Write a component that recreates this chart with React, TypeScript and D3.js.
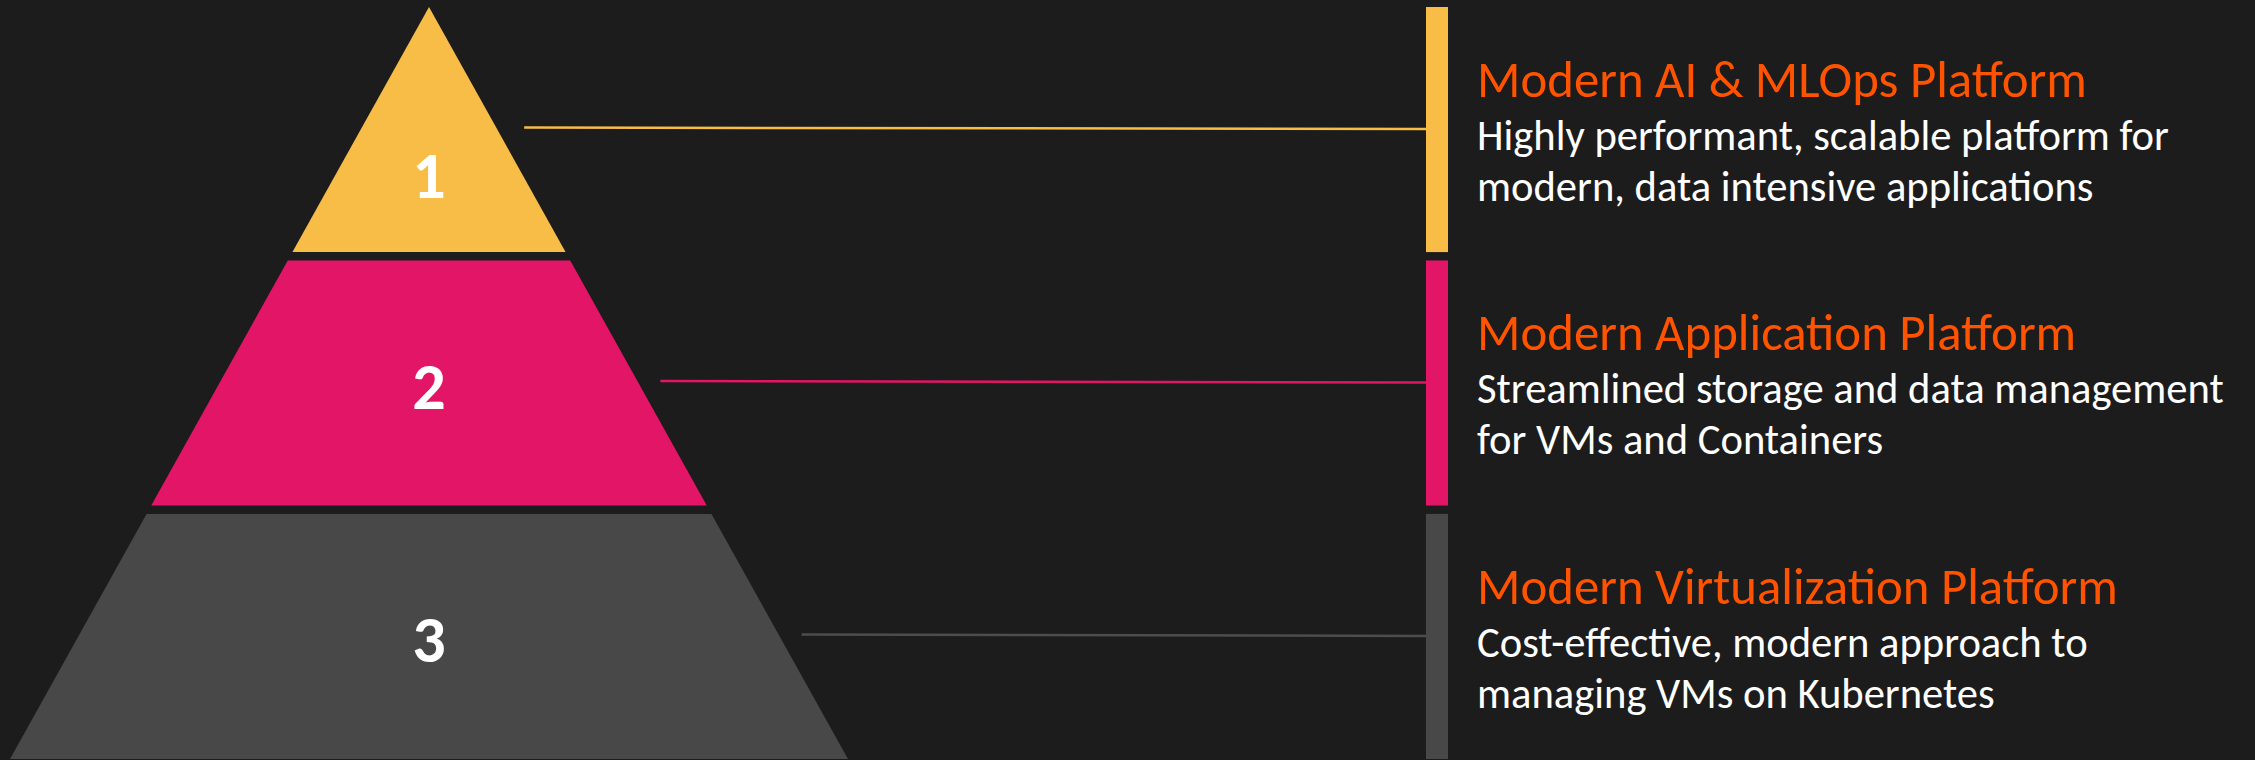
import React from "react";
import * as d3 from "d3";

const LEVELS = ["1", "2", "3"];
const COLORS = ["#F8BD47", "#E31566", "#484848"];
const TITLES = [
  "Modern AI & MLOps Platform",
  "Modern Application Platform",
  "Modern Virtualization Platform",
];
const DESC_LINE1 = [
  "Highly performant, scalable platform for",
  "Streamlined storage and data management",
  "Cost-effective, modern approach to",
];
const DESC_LINE2 = [
  "modern, data intensive applications",
  "for VMs and Containers",
  "managing VMs on Kubernetes",
];

const WIDTH = 2255;
const HEIGHT = 760;
const BG = "#1C1C1C";
const ORANGE = "#FF5300";
const FONT = "Calibri, Carlito, Lato, sans-serif";

const APEX_X = 429;
const TOP = 7;
const BASE = 759;
const HALF_BASE = 419;
const BAR_X = 1426;
const BAR_W = 22;
const TEXT_X = 1477;

export default function App() {
  const y = d3
    .scaleBand<string>()
    .domain(LEVELS)
    .range([TOP, BASE])
    .paddingInner(0.033);

  // half width of the pyramid at a given height
  const half = d3.scaleLinear().domain([TOP, BASE]).range([0, HALF_BASE]);

  return (
    <svg
      width={WIDTH}
      height={HEIGHT}
      style={{ position: "absolute", left: 0, top: 0, display: "block" }}
    >
      <rect width={WIDTH} height={HEIGHT} fill={BG} />
      {LEVELS.map((lvl, i) => {
        const y0 = y(lvl)!;
        const y1 = y0 + y.bandwidth();
        const pts: [number, number][] = [
          [APEX_X - half(y0), y0],
          [APEX_X + half(y0), y0],
          [APEX_X + half(y1), y1],
          [APEX_X - half(y1), y1],
        ];
        const mid = y0 + y.bandwidth() / 2;
        // top layer is a triangle, put the number near its centroid
        const labelY = i === 0 ? TOP + (y1 - TOP) * (2 / 3) + 4 : mid + 2;
        const lineY = mid - 2;
        const lineX0 = APEX_X + half(lineY) + (i === 0 ? 28 : 23);
        const titleY = y0 + 90;
        return (
          <g key={lvl}>
            <path d={d3.line()(pts)! + "Z"} fill={COLORS[i]} />
            <text
              x={APEX_X}
              y={labelY}
              dy="0.36em"
              textAnchor="middle"
              fill="#fff"
              fontFamily={FONT}
              fontWeight="bold"
              fontSize={66}
            >
              {lvl}
            </text>
            <line
              x1={lineX0}
              x2={BAR_X}
              y1={lineY}
              y2={lineY + 1.5}
              stroke={i === 2 ? "#4d4d4d" : COLORS[i]}
              strokeWidth={2.5}
            />
            <rect x={BAR_X} y={y0} width={BAR_W} height={y.bandwidth()} fill={COLORS[i]} />
            <text x={TEXT_X} y={titleY} fill={ORANGE} fontFamily={FONT} fontSize={50.8}>
              {TITLES[i]}
            </text>
            <text x={TEXT_X} y={titleY + 53} fill="#fff" fontFamily={FONT} fontSize={42.6}>
              {DESC_LINE1[i]}
            </text>
            <text x={TEXT_X} y={titleY + 104} fill="#fff" fontFamily={FONT} fontSize={42.6}>
              {DESC_LINE2[i]}
            </text>
          </g>
        );
      })}
    </svg>
  );
}
